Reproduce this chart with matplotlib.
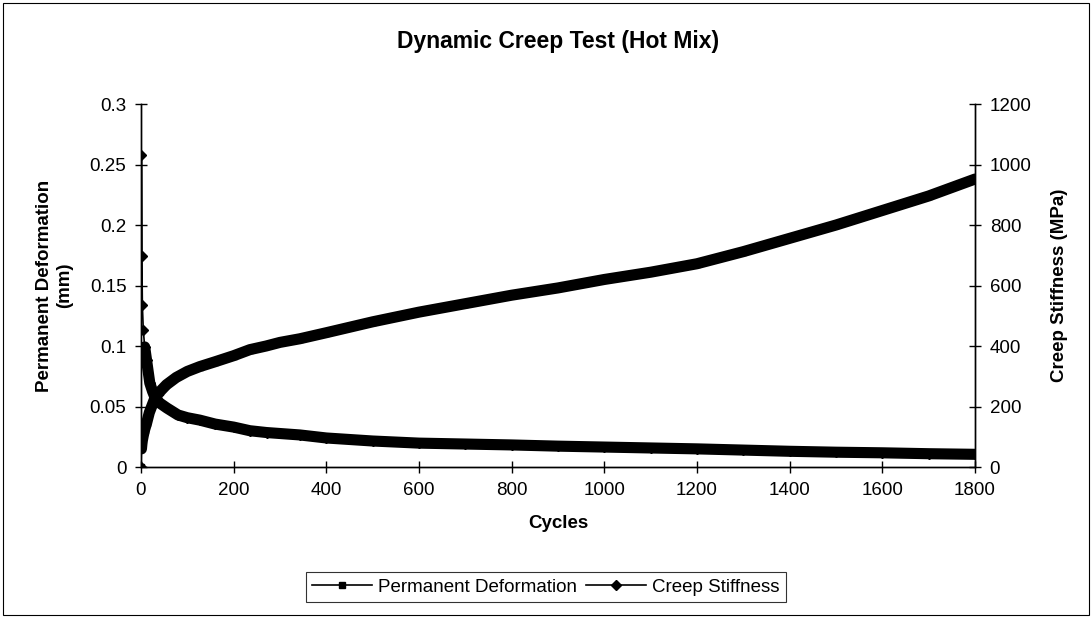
import matplotlib
matplotlib.use("Agg")
import matplotlib.pyplot as plt
from matplotlib.patches import Rectangle

plt.rcParams['font.family'] = ['Liberation Sans', 'DejaVu Sans']

# permanent deformation (mm) vs cycles
def_cycles = [0, 1, 2, 3, 5, 8, 12, 18, 25, 30, 40, 55, 76, 100, 127, 160, 200, 235,
              270, 300, 343, 400, 500, 600, 700, 800, 900, 1000, 1100, 1200, 1300,
              1400, 1500, 1600, 1700, 1800]
def_mm = [0, 0.015, 0.019, 0.022, 0.026, 0.031, 0.036, 0.045, 0.052, 0.057, 0.062,
          0.068, 0.074, 0.079, 0.083, 0.087, 0.092, 0.097, 0.100, 0.103, 0.106, 0.111,
          0.120, 0.128, 0.135, 0.142, 0.148, 0.155, 0.161, 0.168, 0.178, 0.189, 0.200,
          0.212, 0.224, 0.238]

# creep stiffness (MPa) vs cycles
stf_cycles = [0, 1, 2, 3, 5, 8, 12, 19, 25, 30, 40, 56, 80, 100, 127, 160, 200, 235,
              271, 343, 400, 500, 600, 700, 800, 900, 1000, 1100, 1200, 1300, 1400,
              1500, 1600, 1700, 1800]
stf_mpa = [0, 1031, 697, 535, 453, 397, 354, 278, 250, 231, 212, 195, 172, 163, 155,
           142, 132, 120, 114, 106, 96, 86, 79, 76, 73, 69, 66, 63, 60, 56, 52, 49, 47,
           44, 42]

x_ticks = [0, 200, 400, 600, 800, 1000, 1200, 1400, 1600, 1800]
left_ticks = [0, 0.05, 0.1, 0.15, 0.2, 0.25, 0.3]
left_labels = ['0', '0.05', '0.1', '0.15', '0.2', '0.25', '0.3']
right_ticks = [0, 200, 400, 600, 800, 1000, 1200]

fig = plt.figure(figsize=(10.92, 6.18), dpi=100)
ax = fig.add_axes([0.1291, 0.2443, 0.7638, 0.5874])
ax2 = ax.twinx()

# thin line + markers, then a thick band where the markers crowd together
l1, = ax.plot(def_cycles, def_mm, color='k', lw=1.2, marker='s', ms=5)
ax.plot(def_cycles[1:], def_mm[1:], color='k', lw=8, solid_capstyle='round')
l2, = ax2.plot(stf_cycles, stf_mpa, color='k', lw=1.2, marker='D', ms=5.5)
ax2.plot(stf_cycles[5:], stf_mpa[5:], color='k', lw=8, solid_capstyle='round')

ax.set_xlim(0, 1800)
ax.set_ylim(0, 0.3)
ax2.set_ylim(0, 1200)
ax.set_xticks(x_ticks)
ax.set_yticks(left_ticks)
ax.set_yticklabels(left_labels)
ax2.set_yticks(right_ticks)

for a in (ax, ax2):
    a.spines['top'].set_visible(False)
    a.spines['left'].set_linewidth(1)
    a.spines['bottom'].set_linewidth(1)
    a.spines['right'].set_linewidth(1)
    a.tick_params(direction='inout', length=9, width=1, labelsize=13.5, pad=6)
    a.set_clip_on(False)

ax.set_xlabel('Cycles', fontsize=13.5, fontweight='bold', labelpad=12)
ax.set_ylabel('Permanent Deformation\n(mm)', fontsize=13.5, fontweight='bold', labelpad=12)
ax2.set_ylabel('Creep Stiffness (MPa)', fontsize=13.5, fontweight='bold', labelpad=14)
ax.set_title('Dynamic Creep Test (Hot Mix)', fontsize=16.5, fontweight='bold', pad=40)

leg = fig.legend([l1, l2], ['Permanent Deformation', 'Creep Stiffness'], ncol=2,
                 loc='lower center', bbox_to_anchor=(0.5, 0.01), fontsize=13.5,
                 frameon=True, fancybox=False, edgecolor='black', handlelength=3.2,
                 columnspacing=0.5, handletextpad=0.3, borderpad=0.35)
leg.get_frame().set_linewidth(0.8)

fig.patches.append(Rectangle((0.003, 0.005), 0.994, 0.99, transform=fig.transFigure,
                             fill=False, edgecolor='black', lw=0.8))

fig.savefig('out.png', dpi=100)
